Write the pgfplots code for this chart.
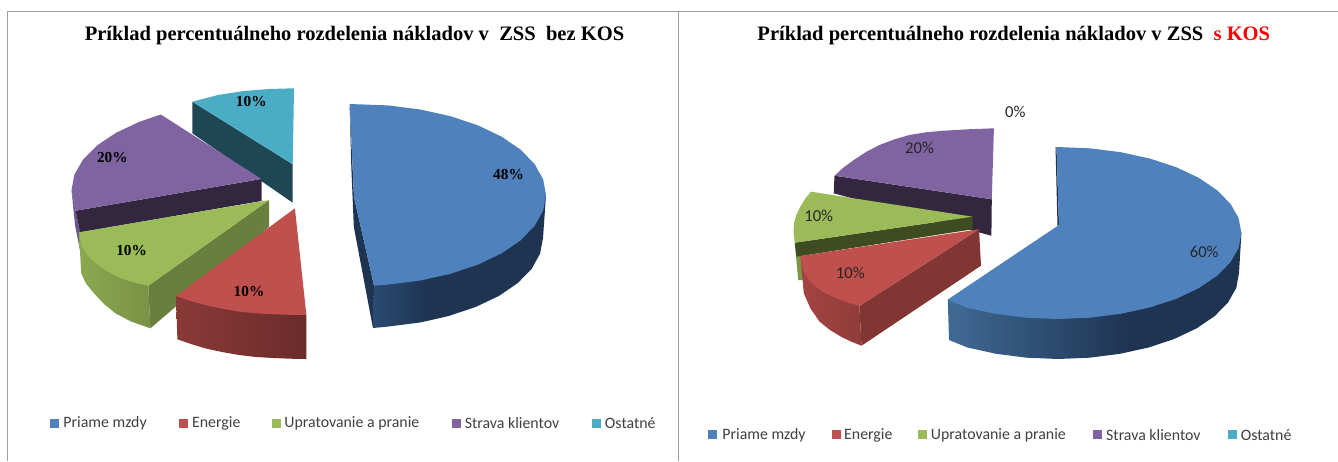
\documentclass[border=0pt]{standalone}
\usepackage{pgfplots}
\usepackage{fontspec}
\pgfplotsset{compat=1.18}
\setmainfont{Carlito}
\newfontfamily\ser{Liberation Serif}
\definecolor{cB}{HTML}{4F81BD}
\definecolor{cR}{HTML}{C0504D}
\definecolor{cG}{HTML}{9BBB59}
\definecolor{cP}{HTML}{8064A2}
\definecolor{cT}{HTML}{4BACC6}
\definecolor{HTMLteal}{HTML}{1F4753}
\definecolor{HTMLpurp}{HTML}{33273F}
\definecolor{HTMLolive}{HTML}{3F4B20}
\definecolor{HTMLnavy}{HTML}{1E3450}
\definecolor{wallA}{HTML}{2A4A70}
\definecolor{wallB}{HTML}{406A96}
\definecolor{frameC}{HTML}{A0A0A0}
\newcommand{\lgm}[3]{\addplot[only marks,mark=square*,mark size=3pt,color=#1,mark options={draw=none}] coordinates {(#2,#3)};}
\newcommand{\ltx}[3]{\node[anchor=west,inner sep=0pt,font=\fontsize{11.9pt}{13pt}\selectfont,text=black!75] at (#1,#2) {#3};}
\newcommand{\pbd}[3]{\node[font=\ser\bfseries\fontsize{11.5pt}{13pt}\selectfont,inner sep=0pt] at (#1,#2) {#3};}
\newcommand{\prg}[3]{\node[font=\fontsize{12.5pt}{13pt}\selectfont,inner sep=0pt,text=black!85] at (#1,#2) {#3};}
\begin{document}
\begin{tikzpicture}
\begin{axis}[scale only axis,width=1003.5pt,height=345.75pt,xmin=0,xmax=1338,ymin=0,ymax=461,y dir=reverse,hide axis,clip=true]
% page background fixes the picture's extent
\addplot[fill=white,draw=none] coordinates {(0,0)(1338,0)(1338,461)(0,461)} --cycle;
% frames
\addplot[frameC,line width=1pt] coordinates {(7.5,461)(7.5,11.5)(1338,11.5)};
\addplot[frameC,line width=1pt] coordinates {(678.5,11.5)(678.5,461)};
% ---- LEFT: teal
\addplot[fill=HTMLteal,draw=none] coordinates {(192.3,101.7)(292.7,164.3)(292.7,202.7)(192.3,133.3)} --cycle;
\addplot[fill=cT,draw=none] coordinates {(292.7,164.3)(294,88.3)(269.2,89)(243.6,91)(218,95)(192.3,101.7)} --cycle;
% LEFT: purple
\addplot[fill=cP!85!black,draw=none] coordinates {(71.5,190)(75.6,210.7)(80,232)(80,250)(75,225)} --cycle;
\addplot[fill=HTMLpurp,draw=none] coordinates {(75.6,210.7)(261.5,179)(261.5,201)(80,232.3)} --cycle;
\addplot[fill=cP,draw=none] coordinates {(261.5,179)(160.8,114.5)(139.4,121.8)(116,132.8)(97,145.5)(83,159.6)(74.4,174.5)(71.5,190)(75.6,210.7)} --cycle;
% LEFT: green
\addplot[left color=cG!90!black,right color=cG!78!black,draw=none] coordinates {(79,232.3)(81.2,273.3)(86,283.5)(94,293.3)(104,304)(115.4,313.3)(131,321.5)(150.4,328.3)(148.3,285.7)} --cycle;
\addplot[fill=cG!68!black,draw=none] coordinates {(269.2,200)(269.2,226.7)(150.4,328.3)(148.3,285.7)} --cycle;
\addplot[fill=cG,draw=none] coordinates {(269.2,200)(79,232.3)(80.5,241)(83.3,248.3)(88,255.5)(94,261.7)(102,268)(111,273.3)(119,277.3)(128,280.7)(138,283.5)(148.3,285.7)} --cycle;
% LEFT: red
\addplot[left color=cR!72!black,right color=cR!55!black,draw=none] coordinates {(176,296)(177.4,339.3)(191,344)(205,348.3)(222,352)(239,355)(256,357)(273.5,358)(290,358.7)(306.4,359)(306.4,315)} --cycle;
\addplot[fill=cR,draw=none] coordinates {(294.9,208.3)(176,296)(190.5,301)(205,305)(222,308.7)(239,311.7)(256,313.3)(273.5,314.3)(290,314.8)(306.4,315)} --cycle;
% LEFT: blue
\addplot[fill=HTMLnavy,draw=none] coordinates {(349.6,104.3)(351.3,166.7)(353.8,226.7)(373,328.3)(374,285.5)(354,197)} --cycle;
\addplot[fill=HTMLnavy,draw=none] coordinates {(546,195)(543,238)(540.1,253.6)(531.7,268.8)(517.8,283)(499,295.9)(475.8,306.9)(449,315.9)(429.5,320.4)(429.5,270)} --cycle;
\addplot[left color=wallA,right color=HTMLnavy,draw=none] coordinates {(430,320.3)(419.3,322.6)(387.6,326.6)(373,328)(374,285.5)(430,270)} --cycle;
\addplot[fill=cB,draw=none] coordinates {(354,197)(349.7,104)(388.2,105.4)(420.3,109.5)(450.5,116.2)(477.8,125.3)(501.3,136.5)(520.4,149.5)(534.5,163.9)(543.1,179.2)(546,195)(543.1,210.8)(534.5,226.1)(520.4,240.5)(501.3,253.5)(477.8,264.7)(450.5,273.8)(420.3,280.5)(388.2,284.6)(374,285.5)} --cycle;
% ---- RIGHT: purple
\addplot[fill=HTMLpurp,draw=none] coordinates {(834.5,175.7)(991.8,199.3)(991.4,235.7)(833.7,193.3)} --cycle;
\addplot[fill=cP,draw=none] coordinates {(991.8,199.3)(993.9,128.3)(968,129.3)(943.5,130.7)(926,132.3)(909.3,135)(894,139.5)(879.4,145)(866,152)(853.8,160)(843.5,167.5)(834.5,175.7)} --cycle;
% RIGHT: green
\addplot[fill=cG!80!black,draw=none] coordinates {(794.8,242.7)(798.2,280)(803,280)(801,256)} --cycle;
\addplot[fill=HTMLolive,draw=none] coordinates {(794.8,242.7)(972.6,216.7)(972.6,229.3)(796.5,256.7)} --cycle;
\addplot[fill=cG,draw=none] coordinates {(972.6,216.7)(811,191.7)(805,199)(800.3,206.7)(796.3,215)(793.9,223.3)(793.6,233)(794.8,242.7)} --cycle;
% RIGHT: red
\addplot[left color=cR!85!black,right color=cR!75!black,draw=none] coordinates {(800.3,256)(803.8,293.3)(810.5,308.5)(819.6,321.7)(830,330)(841,336.7)(851,341.5)(861.5,345.7)(859.3,306)} --cycle;
\addplot[fill=cR!67!black,draw=none] coordinates {(979,229.3)(981,265.7)(861.5,345.7)(859.3,306)} --cycle;
\addplot[fill=cR,draw=none] coordinates {(979,229.3)(800.3,256)(802,265)(804.6,273.3)(809.5,280.5)(815.3,286.7)(823.5,292)(832.4,296.7)(845,301.5)(859.3,306)} --cycle;
% RIGHT: blue
\addplot[fill=HTMLnavy,draw=none] coordinates {(1055.5,147)(1057.5,226)(1059,225)(1056.5,147)} --cycle;
\addplot[fill=HTMLnavy,draw=none] coordinates {(1241.4,233)(1239,273)(1236.3,287.9)(1228.1,302.4)(1214.8,316)(1196.7,328.3)(1174.3,338.9)(1148.5,347.5)(1129.5,351.7)(1129.5,290)} --cycle;
\addplot[left color=wallB,right color=HTMLnavy,draw=none] coordinates {(1130,351.6)(1119.9,353.8)(1089.4,357.7)(1058,359)(1026.6,357.7)(996.1,353.8)(967.5,347.5)(949,340)(947.8,299.5)(1130,290)} --cycle;
\addplot[fill=cB,draw=none] coordinates {(1059,225)(1056.5,147)(1089.8,148.3)(1120.7,152.2)(1149.7,158.5)(1175.9,167.1)(1198.5,177.7)(1216.8,190)(1230.3,203.6)(1238.6,218.1)(1241.4,233)(1238.6,247.9)(1230.3,262.4)(1216.8,276)(1198.5,288.3)(1175.9,298.9)(1149.7,307.5)(1120.7,313.8)(1089.8,317.7)(1058,319)(1026.2,317.7)(995.3,313.8)(966.3,307.5)(947.8,299.5)} --cycle;
% legend marks
\lgm{cB}{54.7}{423}\lgm{cR}{183.3}{423}\lgm{cG}{276}{423}\lgm{cP}{456.4}{423}\lgm{cT}{596.6}{423}
\lgm{cB}{712.7}{434.5}\lgm{cR}{835.8}{434.5}\lgm{cG}{922.1}{434.5}\lgm{cP}{1097.4}{434.5}\lgm{cT}{1232}{434.5}
% legend text
\ltx{63.2}{423.5}{Priame mzdy}\ltx{191.9}{423.5}{Energie}\ltx{284.2}{423.5}{Upratovanie a pranie}\ltx{464.5}{423.5}{Strava klientov}\ltx{604.7}{423.5}{Ostatné}
\ltx{722.1}{435}{Priame mzdy}\ltx{843.9}{435}{Energie}\ltx{930.7}{435}{Upratovanie a pranie}\ltx{1105.9}{435}{Strava klientov}\ltx{1240.5}{435}{Ostatné}
% value labels
\pbd{508.5}{174}{48\%}\pbd{251.3}{101.7}{10\%}\pbd{112.4}{157.7}{20\%}\pbd{131.6}{250.7}{10\%}\pbd{249}{291}{10\%}
\prg{1015.3}{111.7}{0\%}\prg{919.6}{148.3}{20\%}\prg{818.7}{215.7}{10\%}\prg{850.3}{273.3}{10\%}\prg{1204.2}{252.3}{60\%}
% titles
\node[font=\ser\bfseries\fontsize{15.4pt}{17pt}\selectfont,inner sep=0pt] at (354.5,36) {Príklad percentuálneho rozdelenia nákladov v\ \ ZSS\ \ bez KOS};
\node[font=\ser\bfseries\fontsize{15.4pt}{17pt}\selectfont,inner sep=0pt] at (1013.8,36) {Príklad percentuálneho rozdelenia nákladov v ZSS\ \ \textcolor{red}{s KOS}};
\end{axis}
\end{tikzpicture}
\end{document}
